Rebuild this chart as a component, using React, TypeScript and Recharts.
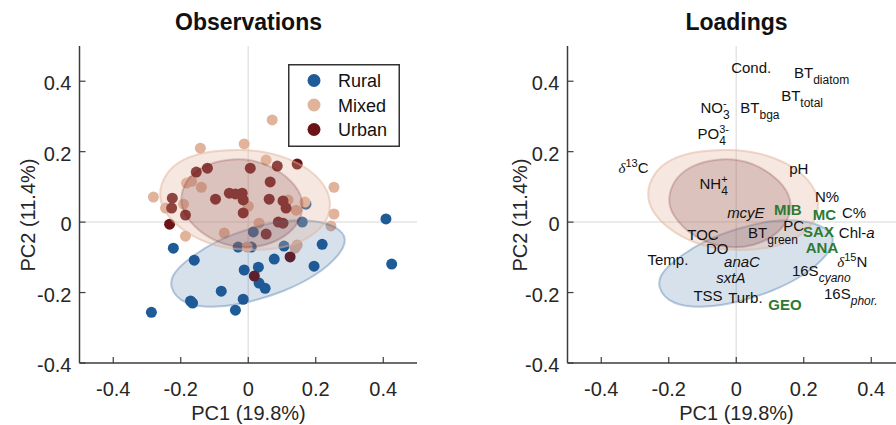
import React from "react";
import { Legend, ReferenceLine, Scatter, ScatterChart, XAxis, YAxis } from "recharts";

type Pt = { x: number; y: number };
type Loading = { label: string; x: number; y: number };

const xTicks = [-0.4, -0.2, 0, 0.2, 0.4];
const yTicks = [-0.4, -0.2, 0, 0.2, 0.4];
const xDomain: [number, number] = [-0.5, 0.5];
const yDomain: [number, number] = [-0.4, 0.5];

const seriesNames = ["Rural", "Mixed", "Urban"];

const rural: Pt[] = [
  { x: -0.287, y: -0.256 }, { x: -0.222, y: -0.074 }, { x: -0.16, y: -0.108 },
  { x: -0.171, y: -0.224 }, { x: -0.165, y: -0.23 }, { x: -0.08, y: -0.196 },
  { x: -0.038, y: -0.25 }, { x: -0.015, y: -0.219 }, { x: -0.012, y: -0.136 },
  { x: 0.03, y: -0.128 }, { x: 0.032, y: -0.173 }, { x: 0.05, y: -0.188 },
  { x: -0.03, y: -0.071 }, { x: 0.009, y: -0.071 }, { x: 0.015, y: -0.028 },
  { x: 0.077, y: -0.105 }, { x: 0.106, y: -0.068 }, { x: 0.16, y: 0.0 },
  { x: 0.219, y: -0.063 }, { x: 0.195, y: -0.125 }, { x: 0.408, y: 0.009 },
  { x: 0.425, y: -0.119 }, { x: 0.171, y: 0.051 },
];

const mixed: Pt[] = [
  { x: -0.142, y: 0.21 }, { x: -0.012, y: 0.222 }, { x: 0.053, y: 0.176 },
  { x: 0.071, y: 0.29 }, { x: -0.281, y: 0.071 }, { x: -0.183, y: 0.111 },
  { x: -0.168, y: 0.116 }, { x: -0.139, y: 0.099 }, { x: -0.245, y: 0.04 },
  { x: -0.192, y: 0.051 }, { x: 0.0, y: 0.045 }, { x: 0.254, y: 0.099 },
  { x: 0.118, y: 0.063 }, { x: 0.168, y: 0.057 }, { x: 0.142, y: 0.034 },
  { x: 0.254, y: 0.023 }, { x: 0.245, y: -0.011 }, { x: 0.032, y: -0.003 },
  { x: 0.139, y: -0.074 }, { x: 0.145, y: -0.065 }, { x: -0.003, y: -0.071 },
  { x: -0.186, y: -0.04 }, { x: -0.071, y: -0.031 },
];

const urban: Pt[] = [
  { x: -0.154, y: 0.142 }, { x: -0.121, y: 0.153 }, { x: 0.006, y: 0.153 },
  { x: 0.086, y: 0.159 }, { x: 0.145, y: 0.165 }, { x: -0.225, y: 0.068 },
  { x: -0.227, y: 0.04 }, { x: -0.233, y: -0.006 }, { x: -0.186, y: 0.02 },
  { x: -0.097, y: 0.065 }, { x: -0.056, y: 0.082 }, { x: -0.038, y: 0.08 },
  { x: -0.018, y: 0.082 }, { x: -0.015, y: 0.063 }, { x: -0.015, y: 0.026 },
  { x: 0.065, y: 0.114 }, { x: 0.062, y: 0.065 }, { x: 0.103, y: 0.06 },
  { x: 0.112, y: 0.04 }, { x: 0.089, y: 0.0 }, { x: 0.103, y: -0.003 },
  { x: 0.053, y: -0.034 }, { x: 0.124, y: -0.099 }, { x: 0.018, y: -0.153 },
];

// confidence ellipses, outline
const ruralEllipse: Pt[] = [
  { x: -0.236, y: -0.185 }, { x: -0.192, y: -0.236 }, { x: -0.092, y: -0.244 },
  { x: 0.006, y: -0.227 }, { x: 0.103, y: -0.199 }, { x: 0.204, y: -0.151 },
  { x: 0.272, y: -0.094 }, { x: 0.295, y: -0.045 }, { x: 0.263, y: -0.014 },
  { x: 0.204, y: 0.006 }, { x: 0.103, y: 0.006 }, { x: 0.006, y: -0.017 },
  { x: -0.092, y: -0.051 }, { x: -0.171, y: -0.099 }, { x: -0.222, y: -0.142 },
];

const mixedEllipse: Pt[] = [
  { x: -0.269, y: 0.077 }, { x: -0.245, y: 0.142 }, { x: -0.192, y: 0.182 },
  { x: -0.112, y: 0.202 }, { x: -0.024, y: 0.207 }, { x: 0.065, y: 0.199 },
  { x: 0.154, y: 0.168 }, { x: 0.219, y: 0.119 }, { x: 0.248, y: 0.063 },
  { x: 0.236, y: 0.0 }, { x: 0.183, y: -0.045 }, { x: 0.109, y: -0.074 },
  { x: 0.006, y: -0.082 }, { x: -0.097, y: -0.071 }, { x: -0.186, y: -0.031 },
  { x: -0.245, y: 0.02 },
];

const urbanEllipse: Pt[] = [
  { x: -0.204, y: 0.063 }, { x: -0.186, y: 0.119 }, { x: -0.142, y: 0.156 },
  { x: -0.083, y: 0.176 }, { x: -0.009, y: 0.182 }, { x: 0.065, y: 0.162 },
  { x: 0.13, y: 0.119 }, { x: 0.168, y: 0.063 }, { x: 0.154, y: 0.0 },
  { x: 0.109, y: -0.043 }, { x: 0.05, y: -0.068 }, { x: -0.018, y: -0.074 },
  { x: -0.089, y: -0.06 }, { x: -0.151, y: -0.023 }, { x: -0.189, y: 0.02 },
];

// loadings: ^{..} superscript, _{..} subscript, /../ italic
const envLoadings: Loading[] = [
  { label: "Cond.", x: -0.015, y: 0.438 },
  { label: "BT_{diatom}", x: 0.171, y: 0.423 },
  { label: "BT_{total}", x: 0.133, y: 0.358 },
  { label: "BT_{bga}", x: 0.012, y: 0.324 },
  { label: "NO^{-}_{3}", x: -0.106, y: 0.324 },
  { label: "PO^{3-}_{4}", x: -0.115, y: 0.25 },
  { label: "δ^{13}C", x: -0.349, y: 0.153 },
  { label: "NH^{+}_{4}", x: -0.109, y: 0.108 },
  { label: "pH", x: 0.157, y: 0.151 },
  { label: "N%", x: 0.233, y: 0.071 },
  { label: "C%", x: 0.313, y: 0.026 },
  { label: "PC", x: 0.139, y: -0.009 },
  { label: "BT_{green}", x: 0.035, y: -0.031 },
  { label: "Chl-/a/", x: 0.304, y: -0.031 },
  { label: "δ^{15}N", x: 0.299, y: -0.113 },
  { label: "16S_{/cyano/}", x: 0.165, y: -0.139 },
  { label: "16S_{/phor./}", x: 0.26, y: -0.202 },
  { label: "Turb.", x: -0.024, y: -0.216 },
  { label: "TSS", x: -0.127, y: -0.21 },
  { label: "TOC", x: -0.145, y: -0.035 },
  { label: "DO", x: -0.09, y: -0.076 },
  { label: "Temp.", x: -0.263, y: -0.108 },
];

const geneLoadings: Loading[] = [
  { label: "mcyE", x: -0.027, y: 0.026 },
  { label: "anaC", x: -0.036, y: -0.113 },
  { label: "sxtA", x: -0.059, y: -0.158 },
];

const compoundLoadings: Loading[] = [
  { label: "MIB", x: 0.112, y: 0.034 },
  { label: "MC", x: 0.227, y: 0.02 },
  { label: "SAX", x: 0.198, y: -0.028 },
  { label: "ANA", x: 0.206, y: -0.072 },
  { label: "GEO", x: 0.095, y: -0.236 },
];

const RURAL = "#1f5b97";
const MIXED = "#e1b39b";
const URBAN = "#6b1418";
const GREEN = "#2e7a31";
const AXIS = "#3c3c3c";
const FONT = "'Liberation Sans', Arial, Helvetica, sans-serif";
const colors = [RURAL, MIXED, URBAN];

const margin = { top: 46, right: 31, bottom: 32, left: 19.5 };

const fmt = (v: number) => (v === 0 ? "0" : v.toFixed(1));
const charW = (c: string) =>
  (({ "-": 0.333, "+": 0.584, ".": 0.278, " ": 0.278 }) as Record<string, number>)[c] ?? 0.556;

function RichText({ x, y, text, size, italic, bold, color }: any) {
  const tokens: string[] = text.match(/\^\{[^}]*\}|_\{[^}]*\}|\/[^/]+\/|δ|[^\^_/δ]+/g) ?? [];
  let shift = 0;
  let prevSup = "";
  const spans = tokens.map((tok, i) => {
    let content = tok;
    let fs = size;
    let target = 0;
    let dx = 0;
    let isSup = false;
    if (tok.startsWith("^{")) {
      content = tok.slice(2, -1);
      fs = 11;
      target = -6;
      isSup = true;
    } else if (tok.startsWith("_{")) {
      content = tok.slice(2, -1);
      fs = 12;
      target = 6;
      if (prevSup) dx = -[...prevSup].reduce((s, c) => s + charW(c) * 11, 0);
    }
    let ital = false;
    let family: string | undefined;
    if (/^\/.*\/$/.test(content)) {
      content = content.slice(1, -1);
      ital = true;
    }
    if (content === "δ") {
      ital = true;
      family = "'Liberation Serif', 'DejaVu Serif', serif";
    }
    const dy = target - shift;
    shift = target;
    prevSup = isSup ? content : "";
    return (
      <tspan key={i} dx={dx || undefined} dy={dy || undefined} fontSize={fs}
        fontStyle={ital ? "italic" : undefined} fontFamily={family}>
        {content}
      </tspan>
    );
  });
  return (
    <text x={x} y={y + size * 0.35} fontFamily={FONT} fontSize={size} fill={color}
      fontStyle={italic ? "italic" : "normal"} fontWeight={bold ? "bold" : "normal"}>
      {spans}
    </text>
  );
}

const dot = (color: string) => (p: any) => <circle cx={p.cx} cy={p.cy} r={5.5} fill={color} />;
const none = () => <g />;
const labelShape = (opts: any) => (p: any) => (
  <RichText x={p.cx} y={p.cy} text={p.payload?.label ?? p.label} size={15} color="#111" {...opts} />
);

const tickBottom = (p: any) => (
  <g>
    <line x1={p.x} x2={p.x} y1={p.y} y2={p.y - 6} stroke={AXIS} strokeWidth={1.2} />
    <text x={p.x} y={p.y + 33} textAnchor="middle" fontSize={20} fontFamily={FONT} fill="#262626">
      {fmt(p.payload.value)}
    </text>
  </g>
);
const tickTop = (p: any) => (
  <line x1={p.x} x2={p.x} y1={p.y} y2={p.y + 6} stroke={AXIS} strokeWidth={1.2} />
);
const tickLeft = (p: any) => (
  <g>
    <line x1={p.x} x2={p.x + 6} y1={p.y} y2={p.y} stroke={AXIS} strokeWidth={1.2} />
    <text x={p.x - 8} y={p.y + 9} textAnchor="end" fontSize={20} fontFamily={FONT} fill="#262626">
      {fmt(p.payload.value)}
    </text>
  </g>
);
const tickRight = (p: any) => (
  <line x1={p.x} x2={p.x - 6} y1={p.y} y2={p.y} stroke={AXIS} strokeWidth={1.2} />
);

const axisLine = { stroke: AXIS, strokeWidth: 1.5 };

function axes() {
  return [
    <ReferenceLine key="zx" x={0} xAxisId="b" yAxisId="l" stroke="#e4e4e4" strokeWidth={1.5} />,
    <ReferenceLine key="zy" y={0} xAxisId="b" yAxisId="l" stroke="#e4e4e4" strokeWidth={1.5} />,
    <XAxis key="b" xAxisId="b" type="number" dataKey="x" domain={xDomain} ticks={xTicks} interval={0}
      allowDataOverflow height={30} tickSize={0} tickMargin={0} tickLine={false} axisLine={axisLine} tick={tickBottom} />,
    <XAxis key="t" xAxisId="t" orientation="top" type="number" dataKey="x" domain={xDomain} ticks={xTicks}
      interval={0} allowDataOverflow height={0} tickSize={0} tickMargin={0} tickLine={false} axisLine={axisLine} tick={tickTop} />,
    <YAxis key="l" yAxisId="l" type="number" dataKey="y" domain={yDomain} ticks={yTicks} interval={0}
      allowDataOverflow width={60} tickSize={0} tickMargin={0} tickLine={false} axisLine={axisLine} tick={tickLeft} />,
    <YAxis key="r" yAxisId="r" orientation="right" type="number" dataKey="y" domain={yDomain} ticks={yTicks}
      interval={0} allowDataOverflow width={0} tickSize={0} tickMargin={0} tickLine={false} axisLine={axisLine} tick={tickRight} />,
  ];
}

function ellipses() {
  const list: [Pt[], string, number, number][] = [
    [ruralEllipse, RURAL, 0.18, 0.3],
    [mixedEllipse, MIXED, 0.3, 0.5],
    [urbanEllipse, URBAN, 0.18, 0.2],
  ];
  return list.map(([data, color, fo, so], i) => (
    <Scatter key={"e" + i} data={data} xAxisId="b" yAxisId="l" shape={none} legendType="none"
      isAnimationActive={false} lineJointType="basisClosed"
      line={{ fill: color, fillOpacity: fo, stroke: color, strokeOpacity: so, strokeWidth: 2 }} />
  ));
}

function LegendBox() {
  return (
    <svg width={112} height={83} style={{ display: "block" }}>
      <rect x={0.75} y={0.75} width={110.5} height={81.5} fill="#fff" stroke="#333" strokeWidth={1.5} />
      {seriesNames.map((name, i) => (
        <g key={name}>
          <circle cx={26} cy={16.5 + i * 24.5} r={6.5} fill={colors[i]} />
          <text x={50} y={16.5 + i * 24.5 + 6.5} fontSize={18} fontFamily={FONT} fill="#111">{name}</text>
        </g>
      ))}
    </svg>
  );
}

const titleStyle: React.CSSProperties = {
  position: "absolute", top: 11, width: 338, textAlign: "center", fontSize: 23,
  lineHeight: "23px", fontWeight: "bold", color: "#111",
};
const xLabelStyle: React.CSSProperties = {
  position: "absolute", top: 403, width: 338, textAlign: "center", fontSize: 20,
  lineHeight: "20px", color: "#262626",
};
const yLabelStyle: React.CSSProperties = {
  position: "absolute", top: 205, width: 200, textAlign: "center", fontSize: 20,
  lineHeight: "20px", color: "#262626", transform: "rotate(-90deg)",
};

export default function App() {
  return (
    <div style={{ position: "absolute", left: 0, top: 0, width: 896, height: 425, overflow: "hidden",
      background: "#fff", fontFamily: FONT }}>
      <div style={{ position: "absolute", left: 0, top: 0 }}>
        <ScatterChart width={448} height={425} margin={margin}>
          {axes()}
          <Scatter name="Rural" data={rural} fill={RURAL} xAxisId="b" yAxisId="l" shape={dot(RURAL)} isAnimationActive={false} />
          <Scatter name="Mixed" data={mixed} fill={MIXED} xAxisId="b" yAxisId="l" shape={dot(MIXED)} isAnimationActive={false} />
          <Scatter name="Urban" data={urban} fill={URBAN} xAxisId="b" yAxisId="l" shape={dot(URBAN)} isAnimationActive={false} />
          {ellipses()}
          <Legend layout="vertical" align="center" verticalAlign="middle" content={LegendBox}
            wrapperStyle={{ left: 288, top: 64, width: 112, height: 83 }} />
        </ScatterChart>
      </div>
      <div style={{ position: "absolute", left: 488, top: 0 }}>
        <ScatterChart width={448} height={425} margin={margin}>
          {axes()}
          {ellipses()}
          <Scatter data={envLoadings} xAxisId="b" yAxisId="l" legendType="none" isAnimationActive={false}
            shape={labelShape({})} />
          <Scatter data={geneLoadings} xAxisId="b" yAxisId="l" legendType="none" isAnimationActive={false}
            shape={labelShape({ italic: true })} />
          <Scatter data={compoundLoadings} xAxisId="b" yAxisId="l" legendType="none" isAnimationActive={false}
            shape={labelShape({ bold: true, color: GREEN })} />
        </ScatterChart>
      </div>
      <div style={{ ...titleStyle, left: 79.5 }}>Observations</div>
      <div style={{ ...titleStyle, left: 567.5 }}>Loadings</div>
      <div style={{ ...xLabelStyle, left: 79.5 }}>PC1 (19.8%)</div>
      <div style={{ ...xLabelStyle, left: 567.5 }}>PC1 (19.8%)</div>
      <div style={{ ...yLabelStyle, left: 28 - 100 }}>PC2 (11.4%)</div>
      <div style={{ ...yLabelStyle, left: 520 - 100 }}>PC2 (11.4%)</div>
    </div>
  );
}
